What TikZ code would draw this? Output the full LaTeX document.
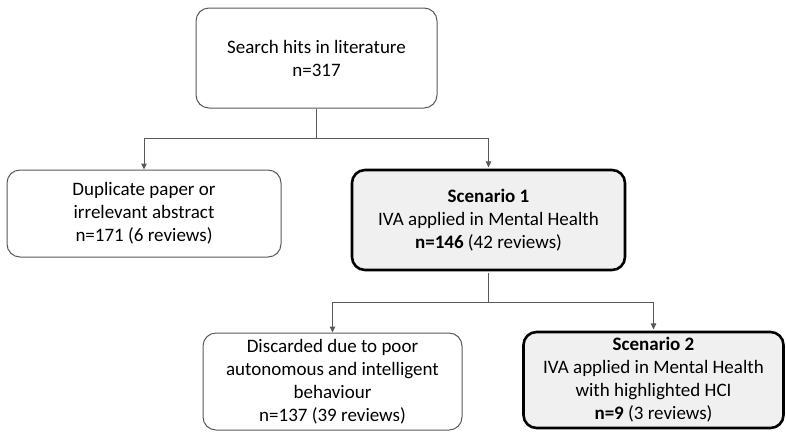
\documentclass[tikz,border=0pt]{standalone}
\usepackage{fontspec}
\setmainfont{Carlito}
\usetikzlibrary{arrows.meta}
\definecolor{edgegray}{HTML}{595959}
\definecolor{boxgray}{HTML}{F0F0F0}
\tikzset{
  flowbox/.style={rectangle, rounded corners=13pt, draw=edgegray, line width=1pt,
    align=center, inner sep=0pt, font=\fontsize{19}{23}\selectfont},
  scenariobox/.style={flowbox, draw=black, line width=2.6pt, fill=boxgray},
  flowarrow/.style={draw=edgegray, line width=1pt,
    -{Triangle[length=6pt,width=5.5pt]}},
  flowline/.style={draw=edgegray, line width=1pt}
}
\begin{document}
\begin{tikzpicture}[x=1pt,y=-1pt]
  \useasboundingbox (0,0) rectangle (786,432);

  % boxes
  \node[flowbox, minimum width=241pt, minimum height=100pt] (hits) at (316.5,58)
    {Search hits in literature\\n=317};
  \node[flowbox, minimum width=274pt, minimum height=87pt] (dup) at (144,213.5)
    {Duplicate paper or\\irrelevant abstract\\n=171 (6 reviews)};
  \node[scenariobox, minimum width=273pt, minimum height=100pt] (sc1) at (488.5,220)
    {\textbf{Scenario 1}\\IVA applied in Mental Health\\\textbf{n=146} (42 reviews)};
  \node[flowbox, minimum width=259pt, minimum height=97pt] (disc) at (332.5,381.5)
    {Discarded due to poor\\autonomous and intelligent\\behaviour\\n=137 (39 reviews)};
  \node[scenariobox, minimum width=260pt, minimum height=96pt] (sc2) at (653.5,380)
    {\textbf{Scenario 2}\\IVA applied in Mental Health\\with highlighted HCI\\\textbf{n=9} (3 reviews)};

  % branching connectors
  \coordinate (split1) at (316.5,138);
  \coordinate (split2) at (488.5,302);
  \draw[flowline] (hits.south) -- (split1);
  \draw[flowarrow] (split1) -| (dup.north);
  \draw[flowarrow, shorten >=1.3pt] (split1) -| (sc1.north);
  \draw[flowline, shorten <=1.3pt] (sc1.south) -- (split2);
  \draw[flowarrow] (split2) -| (disc.north);
  \draw[flowarrow, shorten >=1.3pt] (split2) -| (sc2.north);
\end{tikzpicture}
\end{document}
